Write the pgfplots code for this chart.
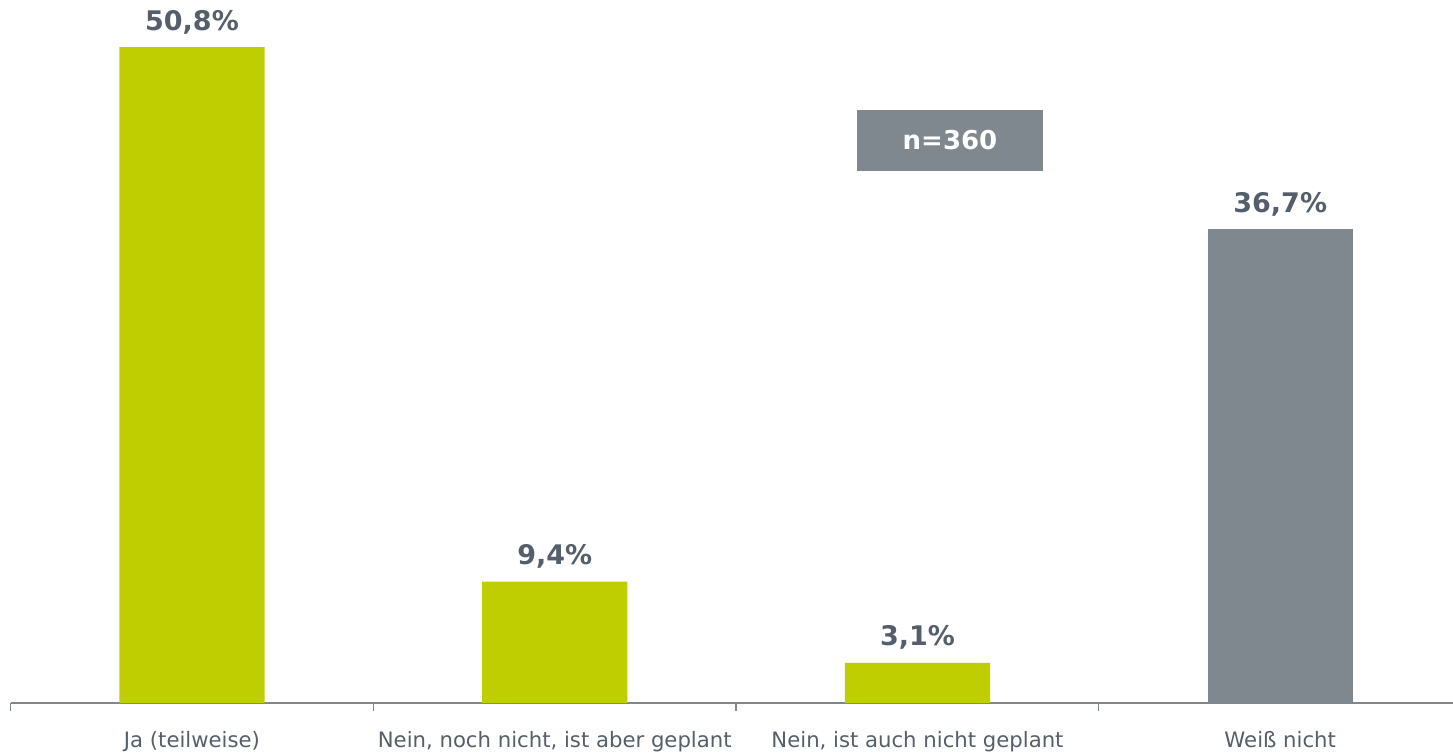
\documentclass[border=0pt]{standalone}
\usepackage{pgfplots}
\pgfplotsset{compat=1.18}
\usepackage{fontspec}
\setmainfont{DejaVu Sans}
\definecolor{barGreen}{RGB}{191,206,0}
\definecolor{barGray}{RGB}{127,135,143}
\definecolor{txt}{RGB}{85,95,107}
\begin{document}
\begin{tikzpicture}[x=1pt,y=1pt]
\useasboundingbox (0,0) rectangle (726.5,377);
\begin{axis}[
  at={(5.3pt,25.5pt)}, anchor=south west,
  scale only axis, width=725.5pt, height=351.5pt,
  xmin=-0.5, xmax=3.5, ymin=0, ymax=54.45,
  axis x line=bottom, axis y line=none,
  x axis line style={-, draw=barGray, line width=0.6pt},
  xtick={0,1,2,3},
  xticklabels={Ja (teilweise), {Nein, noch nicht, ist aber geplant}, {Nein, ist auch nicht geplant}, Weiß nicht},
  major tick length=0pt,
  minor xtick={-0.5,0.5,1.5,2.5,3.5},
  minor tick length=3.8pt,
  tick align=outside,
  every tick/.style={draw=barGray, line width=0.6pt},
  x tick label style={font=\fontsize{10.6}{12}\selectfont, text=txt, anchor=base, yshift=-22.5pt},
  /pgf/number format/assume math mode=true,
  ybar, bar width=0.4, bar shift=0pt,
  clip=false,
  nodes near coords={\pgfmathprintnumber[fixed, fixed zerofill, precision=1, use comma]{\pgfplotspointmeta}\%},
  every node near coord/.append style={font=\bfseries\fontsize{13.5}{15}\selectfont, text=txt, anchor=base, yshift=8.5pt},
]
\addplot[fill=barGreen, draw=none] coordinates {(0,50.8) (1,9.4) (2,3.1)};
\addplot[fill=barGray, draw=none] coordinates {(3,36.7)};
\node[fill=barGray, text=white, font=\bfseries\fontsize{13}{15}\selectfont, minimum width=93pt, minimum height=30.5pt, inner sep=0pt] at (axis cs:2.0897,43.57) {n=360};
\end{axis}
\end{tikzpicture}
\end{document}
